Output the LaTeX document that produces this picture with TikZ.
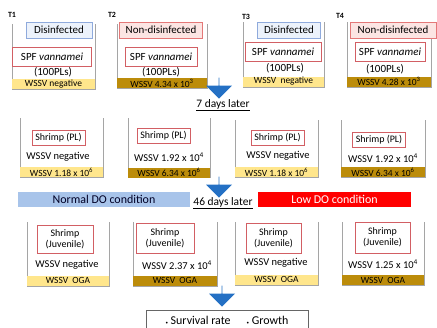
\documentclass[tikz,border=0pt]{standalone}
\usepackage{fontspec}
\setmainfont{Carlito}
\usetikzlibrary{shapes.arrows}
\definecolor{tankgray}{RGB}{165,165,165}
\definecolor{paleyellow}{RGB}{255,230,140}
\definecolor{darkgold}{RGB}{188,140,10}
\definecolor{disblue}{RGB}{143,170,220}
\definecolor{disfill}{RGB}{236,242,251}
\definecolor{nondisred}{RGB}{228,120,120}
\definecolor{nondisfill}{RGB}{252,229,227}
\definecolor{boxred}{RGB}{210,95,100}
\definecolor{normalblue}{RGB}{168,196,234}
\definecolor{arrowblue}{RGB}{36,112,196}

\begin{document}
\begin{tikzpicture}[x=1bp,y=-1bp,
    tank/.style={draw=tankgray,line width=0.8bp},
    band/.style={fill=paleyellow,inner sep=0pt,minimum height=10bp,font=\fontsize{9.5}{10}\selectfont},
    goldband/.style={band,fill=darkgold},
    disbox/.style={draw=disblue,fill=disfill,inner sep=0pt,minimum height=16bp,font=\fontsize{11}{12}\selectfont},
    nondisbox/.style={disbox,draw=nondisred,fill=nondisfill},
    spfbox/.style={draw=boxred,fill=white,inner sep=0pt,minimum height=19bp,font=\fontsize{11}{12}\selectfont},
    shrimpbox/.style={draw=boxred,fill=white,inner sep=0pt,minimum width=53bp,minimum height=15bp,align=center,font=\fontsize{10}{11}\selectfont},
    plain/.style={inner sep=0pt,font=\fontsize{10.5}{12}\selectfont},
    tlabel/.style={inner sep=0pt,font=\fontsize{8}{9}\selectfont\bfseries},
    downarrow/.style={single arrow,shape border rotate=270,fill=arrowblue,inner sep=0pt,
        minimum height=21bp,minimum width=26bp,single arrow head extend=7bp},
    later/.style={inner sep=0pt,font=\fontsize{11.5}{12}\selectfont},
    condbar/.style={inner sep=0pt,minimum height=15bp,font=\fontsize{12}{13}\selectfont}]
\useasboundingbox (0,0) rectangle (437,327);

% day 0
\draw[tank] (12,24) |- (95,89) -- (95,24);
\draw[tank] (117,24) |- (207,88) -- (207,24);
\draw[tank] (243,22) |- (324,87) -- (324,22);
\draw[tank] (347,22) |- (431,87) -- (431,22);
\node[tlabel] (t1) at (12,15) {T1};
\node[tlabel] (t2) at (112,15) {T2};
\node[tlabel] (t3) at (246,17) {T3};
\node[tlabel] (t4) at (340,16) {T4};
\node[disbox,minimum width=66bp] (dis1) at (59,30) {Disinfected};
\node[nondisbox,minimum width=83bp] (nondis2) at (161,30) {Non-disinfected};
\node[disbox,minimum width=63bp] (dis3) at (289,30) {Disinfected};
\node[nondisbox,minimum width=86bp] (nondis4) at (393,30) {Non-disinfected};
\node[spfbox,minimum width=79bp] (spf1) at (52,57) {SPF \textit{vannamei}};
\node[spfbox,minimum width=72bp] (spf2) at (161,57) {SPF \textit{vannamei}};
\node[spfbox,minimum width=76bp] (spf3) at (283,52) {SPF \textit{vannamei}};
\node[spfbox,minimum width=70bp] (spf4) at (390,52) {SPF \textit{vannamei}};
\node[plain,font=\fontsize{11}{12}\selectfont] (pl1) at (53,72) {(100PLs)};
\node[plain,font=\fontsize{11}{12}\selectfont] (pl2) at (161,72) {(100PLs)};
\node[plain,font=\fontsize{11}{12}\selectfont] (pl3) at (285,68) {(100PLs)};
\node[plain,font=\fontsize{11}{12}\selectfont] (pl4) at (385,69) {(100PLs)};
\node[band,minimum width=83bp] (b1) at (53.5,84) {WSSV negative};
\node[goldband,minimum width=90bp] (b2) at (162,83) {WSSV 4.34 x 10\textsuperscript{3}};
\node[band,minimum width=81bp] (b3) at (283.5,81.5) {WSSV\ \ negative};
\node[goldband,minimum width=84bp] (b4) at (389,81.5) {WSSV 4.28 x 10\textsuperscript{3}};

\node[downarrow] (arr1) at (219,88) {};
\node[later] (d7) at (223,105) {\underline{7 days later}};

% 7 days later
\draw[tank] (20,118) |- (103,177) -- (103,118);
\draw[tank] (128,118) |- (210,177) -- (210,118);
\draw[tank] (235,120) |- (318,177) -- (318,120);
\draw[tank] (341,120) |- (425,177) -- (425,120);
\node[shrimpbox] (pla) at (58.5,137.5) {Shrimp (PL)};
\node[shrimpbox] (plb) at (163.5,135.5) {Shrimp (PL)};
\node[shrimpbox] (plc) at (277.5,137.5) {Shrimp (PL)};
\node[shrimpbox] (pld) at (379,139.5) {Shrimp (PL)};
\node[plain] (wa) at (58,157) {WSSV negative};
\node[plain] (wb) at (169,157) {WSSV 1.92 x 10\textsuperscript{4}};
\node[plain] (wc) at (278,156) {WSSV negative};
\node[plain] (wd) at (383,158) {WSSV 1.92 x 10\textsuperscript{4}};
\node[band,minimum width=83bp] (ba) at (61.5,172) {WSSV 1.18 x 10\textsuperscript{6}};
\node[goldband,minimum width=82bp] (bb) at (169,172.5) {WSSV 6.34 x 10\textsuperscript{6}};
\node[band,minimum width=83bp] (bc) at (276.5,172) {WSSV 1.18 x 10\textsuperscript{6}};
\node[goldband,minimum width=84bp] (bd) at (383,172) {WSSV 6.34 x 10\textsuperscript{6}};

\node[downarrow] (arr2) at (219,187) {};
\node[later] (d46) at (223,203) {\underline{46 days later}};
\node[condbar,fill=normalblue,minimum width=172bp,text=black!85!blue] (normal) at (104,199.5) {Normal DO condition};
\node[condbar,fill=red,minimum width=153bp,text=white] (low) at (334.5,199.5) {Low DO condition};

% 46 days later
\draw[tank] (27,222) |- (109,286) -- (109,222);
\draw[tank] (133,222) |- (217,286) -- (217,222);
\draw[tank] (235,222) |- (318,285) -- (318,222);
\draw[tank] (342,222) |- (424,285) -- (424,222);
\node[shrimpbox,minimum width=56bp,minimum height=28bp] (jua) at (65,239) {Shrimp\\(Juvenile)};
\node[shrimpbox,minimum width=58bp,minimum height=30bp] (jub) at (165,238) {Shrimp\\(Juvenile)};
\node[shrimpbox,minimum width=55bp,minimum height=30bp] (juc) at (273.5,238) {Shrimp\\(Juvenile)};
\node[shrimpbox,minimum width=55bp,minimum height=31bp] (jud) at (382.5,237.5) {Shrimp\\(Juvenile)};
\node[plain] (ja) at (67,265) {WSSV negative};
\node[plain] (jb) at (177,265) {WSSV 2.37 x 10\textsuperscript{4}};
\node[plain] (jc) at (276,263) {WSSV negative};
\node[plain] (jd) at (383,264) {WSSV 1.25 x 10\textsuperscript{4}};
\node[band,minimum width=82bp] (ea) at (68,280.5) {WSSV\ \ OGA};
\node[goldband,minimum width=84bp] (eb) at (175,280.5) {WSSV\ \ OGA};
\node[band,minimum width=83bp] (ec) at (276.5,279.5) {WSSV\ \ OGA};
\node[goldband,minimum width=82bp] (ed) at (383,280) {WSSV\ \ OGA};

\node[downarrow] (arr3) at (222,296) {};
\node[draw=black!60,inner sep=0pt,minimum width=162bp,minimum height=20bp,font=\fontsize{12}{13}\selectfont] (result) at (227,320)
    {{\tiny\textbullet}\ Survival rate\hspace{16bp}{\tiny\textbullet}\ Growth};
\end{tikzpicture}
\end{document}
